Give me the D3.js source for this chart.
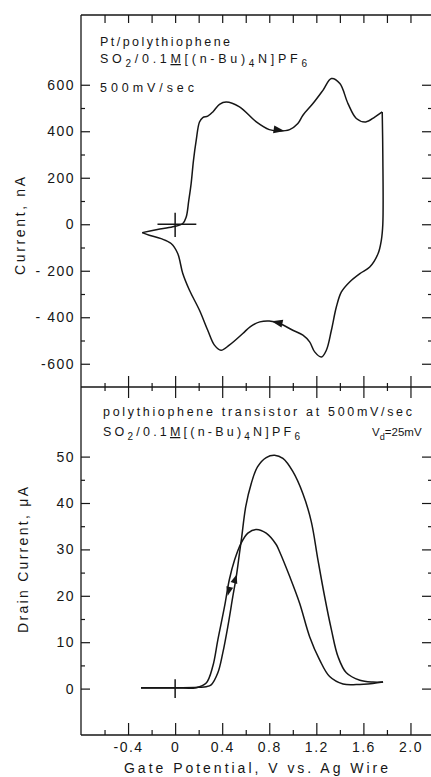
<!DOCTYPE html>
<html lang="en">
<head>
<meta charset="utf-8">
<title>Polythiophene CV and transistor</title>
<script src="https://cdn.jsdelivr.net/npm/d3@7"></script>
<style>
  body { margin: 0; background: #fff; }
  svg { display: block; }
  text { font-family: "Liberation Sans", Arial, sans-serif; fill: #161616; }
  .tick line { stroke: #161616; stroke-width: 1.2; }
  .domain { display: none; }
  .frame { stroke: #161616; stroke-width: 1.3; }
  .trace { fill: none; stroke: #161616; stroke-width: 1.5; }
</style>
</head>
<body>
<script>
// values
// gate potential axis (V vs Ag wire)
var xMajor = [-0.4, 0, 0.4, 0.8, 1.2, 1.6, 2.0];
var xMinor = [-0.6, -0.2, 0.2, 0.6, 1.0, 1.4, 1.8];
var xTickLabels = ["-0.4", "0", "0.4", "0.8", "1.2", "1.6", "2.0"];

// top panel: current, nA
var cvMajor = [-600, -400, -200, 0, 200, 400, 600];
var cvMinor = [-500, -300, -100, 100, 300, 500];
var cvTickLabels = ["-600", "- 400", "- 200", "0", "200", "400", "600"];

// bottom panel: drain current, uA
var idMajor = [0, 10, 20, 30, 40, 50];
var idMinor = [5, 15, 25, 35, 45];
var idTickLabels = ["0", "10", "20", "30", "40", "50"];

// cyclic voltammogram [V, nA]
var cvAnodic = [[-0.28,-36],[-0.15,-23],[-0.02,-11],[0.065,3],[0.094,31],[0.116,103],[0.136,175],
  [0.156,275],[0.179,361],[0.207,440],[0.235,459],[0.277,465],[0.32,483],[0.377,516],[0.434,526],
  [0.547,505],[0.69,440],[0.80,407],[0.888,401],[0.973,407],[1.043,433],[1.086,469],[1.171,519],
  [1.256,576],[1.328,627],[1.40,605],[1.469,519],[1.54,455],[1.62,440],[1.696,461],[1.76,483]];
var cvCathodic = [[1.76,483],[1.765,300],[1.765,0],[1.752,-70],[1.725,-126],[1.654,-184],[1.57,-212],
  [1.483,-248],[1.413,-291],[1.37,-356],[1.328,-456],[1.285,-542],[1.243,-571],[1.186,-549],
  [1.143,-506],[1.086,-477],[1.0,-456],[0.888,-427],[0.80,-416],[0.72,-420],[0.64,-440],[0.575,-470],
  [0.46,-520],[0.39,-542],[0.334,-520],[0.277,-456],[0.207,-370],[0.122,-284],[0.065,-212],
  [0.022,-126],[-0.034,-83],[-0.119,-62],[-0.22,-47],[-0.28,-36]];
// direction arrows: [from V, from nA, tip V, tip nA]
var cvArrows = [[0.84,408,0.93,401],[0.90,-426,0.82,-417]];
// reference cross at the origin
var cvCrossV = [-0.15, 0.18];
var cvCrossI = [-55, 50];

// transistor drain current [V, uA]
var idForward = [[-0.29,0.2],[0,0.2],[0.2,0.3],[0.264,0.4],[0.306,0.8],[0.363,3.4],[0.405,7.7],
  [0.448,13.4],[0.49,19.8],[0.52,24.2],[0.547,29.2],[0.565,32.5],[0.60,39.2],[0.647,44.2],
  [0.70,47.8],[0.774,49.8],[0.845,50.3],[0.916,49.6],[1.0,46.8],[1.086,42],[1.157,36],
  [1.214,27.7],[1.27,19.9],[1.328,12.7],[1.384,6.9],[1.455,3.4],[1.57,1.8],[1.68,1.4],[1.767,1.4]];
var idReverse = [[1.767,1.4],[1.68,1.1],[1.54,0.86],[1.427,1.0],[1.313,2.6],[1.228,6.2],
  [1.143,11.2],[1.058,18.4],[0.973,24.2],[0.888,29.5],[0.86,31.0],[0.774,33.5],[0.69,34.3],
  [0.618,33.5],[0.56,31.3],[0.505,27.7],[0.46,23.4],[0.42,17.7],[0.363,10.5],[0.32,4.8],
  [0.264,1.2],[0.18,0.2],[0,0.15],[-0.29,0.15]];
var idArrows = [[0.495,22.4,0.523,24.6],[0.467,22.2,0.447,20.0]];
var idCrossI = [-2, 2];

var width = 431, height = 777;

var svg = d3.select("body").append("svg")
  .attr("width", width)
  .attr("height", height);

var x = d3.scaleLinear().domain([-0.8, 2.2]).range([81, 434]);
var yCV = d3.scaleLinear().domain([-700, 900]).range([387, 15]);
var yID = d3.scaleLinear().domain([-10, 65]).range([735, 387]);

var left = 81, right = 431;

// frame
[[left, 15, left, 735], [left, 15, right, 15], [left, 387, right, 387], [left, 735, right, 735]]
  .forEach(function (l) {
    svg.append("line").attr("class", "frame")
      .attr("x1", l[0]).attr("y1", l[1]).attr("x2", l[2]).attr("y2", l[3]);
  });

function styleAxis(g) {
  g.attr("font-family", null).attr("font-size", 14)
    .selectAll("text").attr("letter-spacing", 1.5).style("fill", "#161616");
}

// x ticks: top edge, middle divider, bottom axis
svg.append("g").attr("transform", "translate(0,15)")
  .call(d3.axisBottom(x).tickValues(xMajor.concat(xMinor)).tickSize(8).tickFormat(""));
svg.append("g").attr("transform", "translate(0,387)")
  .call(d3.axisBottom(x).tickValues(xMajor).tickSize(11).tickFormat(""));
svg.append("g").attr("transform", "translate(0,387)")
  .call(d3.axisTop(x).tickValues(xMajor).tickSize(11).tickFormat(""));
svg.append("g").attr("transform", "translate(0,387)")
  .call(d3.axisBottom(x).tickValues(xMinor).tickSize(4).tickFormat(""));
svg.append("g").attr("transform", "translate(0,387)")
  .call(d3.axisTop(x).tickValues(xMinor).tickSize(4).tickFormat(""));
svg.append("g").attr("transform", "translate(0,735)")
  .call(d3.axisBottom(x).tickValues(xMinor).tickSize(-5).tickFormat(""));
svg.append("g").attr("transform", "translate(0,735)")
  .call(d3.axisBottom(x).tickValues(xMajor).tickSize(-12).tickPadding(7)
    .tickFormat(function (d, i) { return xTickLabels[i]; }))
  .call(styleAxis);

// y ticks, both panels
function yTicks(scale, major, minor, labels) {
  svg.append("g").attr("transform", "translate(" + left + ",0)")
    .call(d3.axisLeft(scale).tickValues(major).tickSize(-9).tickPadding(6)
      .tickFormat(function (d, i) { return labels[i]; }))
    .call(styleAxis);
  svg.append("g").attr("transform", "translate(" + left + ",0)")
    .call(d3.axisLeft(scale).tickValues(minor).tickSize(-4).tickFormat(""));
  svg.append("g").attr("transform", "translate(" + right + ",0)")
    .call(d3.axisRight(scale).tickValues(major).tickSize(-9).tickFormat(""));
  svg.append("g").attr("transform", "translate(" + right + ",0)")
    .call(d3.axisRight(scale).tickValues(minor).tickSize(-3).tickFormat(""));
}
yTicks(yCV, cvMajor, cvMinor, cvTickLabels);
yTicks(yID, idMajor, idMinor, idTickLabels);

// traces
var lineCV = d3.line().x(function (d) { return x(d[0]); }).y(function (d) { return yCV(d[1]); })
  .curve(d3.curveCatmullRom.alpha(0.5));
var lineID = d3.line().x(function (d) { return x(d[0]); }).y(function (d) { return yID(d[1]); })
  .curve(d3.curveCatmullRom.alpha(0.5));

svg.append("g").selectAll("path")
  .data([cvAnodic, cvCathodic])
  .enter().append("path")
  .attr("class", "trace")
  .attr("d", lineCV);

svg.append("g").selectAll("path")
  .data([idForward, idReverse])
  .enter().append("path")
  .attr("class", "trace")
  .attr("d", lineID);

// origin crosses
svg.append("line").attr("class", "trace").attr("stroke-width", 1.6)
  .attr("x1", x(cvCrossV[0])).attr("x2", x(cvCrossV[1]))
  .attr("y1", yCV(0)).attr("y2", yCV(0));
svg.append("line").attr("class", "trace").attr("stroke-width", 1)
  .attr("x1", x(0)).attr("x2", x(0))
  .attr("y1", yCV(cvCrossI[0])).attr("y2", yCV(cvCrossI[1]));
svg.append("line").attr("class", "trace").attr("stroke-width", 1).attr("stroke", "#999")
  .attr("x1", x(0)).attr("x2", x(0))
  .attr("y1", yID(idCrossI[0])).attr("y2", yID(idCrossI[1]));

// arrowheads
function arrows(data, yScale, len, half) {
  svg.append("g").selectAll("path")
    .data(data)
    .enter().append("path")
    .attr("fill", "#161616")
    .attr("d", function (a) {
      var x0 = x(a[0]), y0 = yScale(a[1]), x1 = x(a[2]), y1 = yScale(a[3]);
      var dx = x1 - x0, dy = y1 - y0, n = Math.sqrt(dx * dx + dy * dy);
      var ux = dx / n, uy = dy / n;
      var bx = x1 - ux * len, by = y1 - uy * len;
      return "M" + x1 + "," + y1 +
        "L" + (bx - uy * half) + "," + (by + ux * half) +
        "L" + (bx + uy * half) + "," + (by - ux * half) + "Z";
    });
}
arrows(cvArrows, yCV, 11, 4);
arrows(idArrows, yID, 9, 3.5);

// text with sub/underline parts
function richText(px, py, parts, len, size) {
  var t = svg.append("text").attr("x", px).attr("y", py).attr("font-size", size);
  if (len) t.attr("textLength", len).attr("lengthAdjust", "spacing");
  var shift = 0;
  parts.forEach(function (p) {
    var s = t.append("tspan").text(p[0]);
    var want = p[1] === "sub" ? size * 0.35 : 0;
    if (want !== shift) { s.attr("dy", want - shift); shift = want; }
    if (p[1] === "sub") s.attr("font-size", size * 0.8);
    if (p[1] === "u") s.attr("text-decoration", "underline");
  });
  return t;
}

var salt = [["SO"], ["2", "sub"], ["/0.1"], ["M", "u"], ["[(n-Bu)"], ["4", "sub"], ["N]PF"], ["6", "sub"]];

richText(100, 46, [["Pt/polythiophene"]], 130, 12.5);
richText(100, 63, salt, 207, 12.5);
richText(100, 92, [["500mV/sec"]], 94, 12.5);

richText(103, 416, [["polythiophene transistor at 500mV/sec"]], 309, 12.5);
richText(103, 436, salt, 197, 12.5);
richText(372, 436, [["V"], ["d", "sub"], ["=25mV"]], null, 11.5);

// axis titles
svg.append("text")
  .attr("transform", "translate(20," + 226 + ") rotate(-90)")
  .attr("text-anchor", "middle").attr("dy", "0.35em")
  .attr("font-size", 14).attr("textLength", 98).attr("lengthAdjust", "spacing")
  .text("Current, nA");

svg.append("text")
  .attr("transform", "translate(23," + 560 + ") rotate(-90)")
  .attr("text-anchor", "middle").attr("dy", "0.35em")
  .attr("font-size", 14).attr("textLength", 146).attr("lengthAdjust", "spacing")
  .text("Drain Current, \u03bcA");

svg.append("text")
  .attr("x", 256).attr("y", 773)
  .attr("text-anchor", "middle")
  .attr("font-size", 14).attr("textLength", 264).attr("lengthAdjust", "spacing")
  .text("Gate Potential, V vs. Ag Wire");
</script>
</body>
</html>
